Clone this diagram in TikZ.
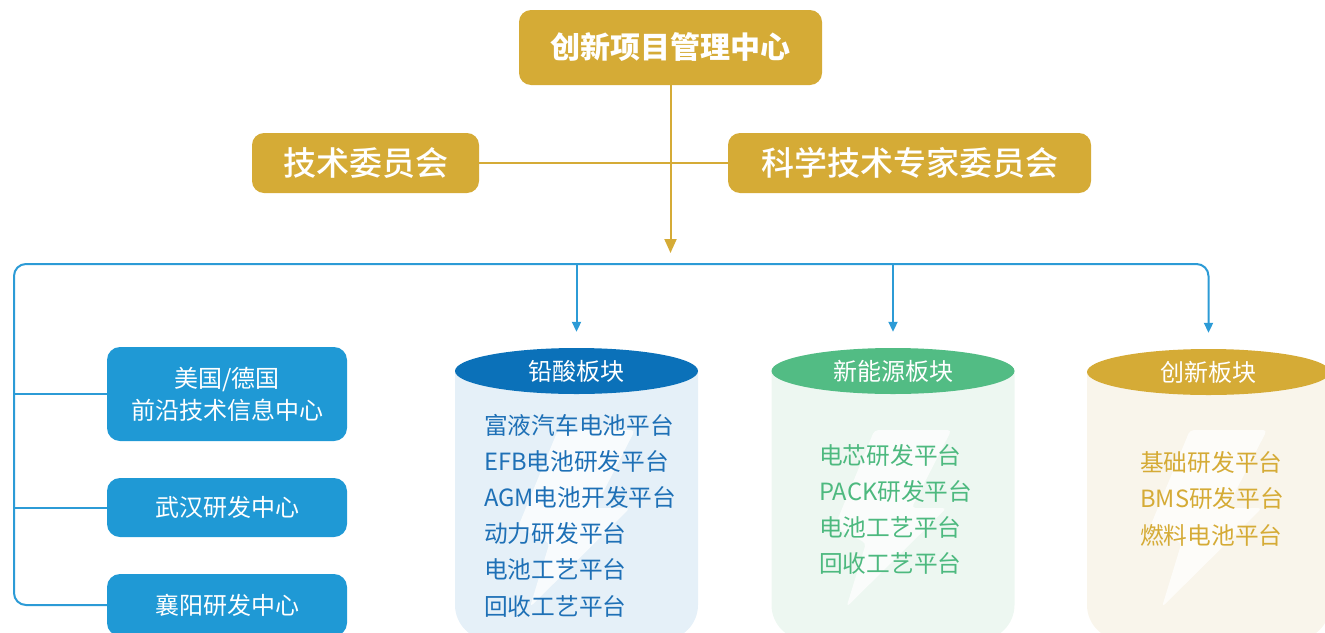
\documentclass[tikz,border=0pt]{standalone}
\usepackage{fontspec}
\setmainfont{Noto Sans CJK SC}
\newfontfamily\cjkmed{Noto Sans CJK SC Medium}
\usepackage{tikz}
\usetikzlibrary{arrows.meta, positioning, shapes.geometric}
\definecolor{gold}{HTML}{D5AB36}
\definecolor{boxblue}{HTML}{1F99D5}
\definecolor{busblue}{HTML}{2C9BD6}
\definecolor{leadblue}{HTML}{0B71B9}
\definecolor{leadtext}{HTML}{1E70B6}
\definecolor{nevgreen}{HTML}{52BC84}
\definecolor{nevtext}{HTML}{4DB97F}
\definecolor{lfblue}{HTML}{E5F0F8}
\definecolor{lfgreen}{HTML}{EDF7F1}
\definecolor{lfgold}{HTML}{F9F5EB}

\begin{document}
\begin{tikzpicture}[x=1pt, y=-1pt,
  goldbox/.style={fill=gold, text=white, rounded corners=12pt, inner sep=0pt},
  bluebox/.style={fill=boxblue, text=white, rounded corners=13pt, minimum width=240pt, inner sep=0pt, align=center, font=\fontsize{24}{32}\selectfont},
  head/.style={ellipse, minimum width=243pt, minimum height=46pt, inner sep=0pt, text=white, font=\fontsize{24}{28}\selectfont, text height=21.1pt, text depth=2.9pt},
  item/.style={anchor=west, inner sep=0pt, font=\fontsize{23.7}{28}\selectfont, text height=20.8pt, text depth=2.8pt},
  goldline/.style={draw=gold, line width=2pt},
  busline/.style={draw=busblue, line width=2pt},
  bustip/.style={-{Triangle[length=10pt,width=9pt]}}]
\useasboundingbox (0,0) rectangle (1325,632);

\node[goldbox, minimum width=303pt, minimum height=75pt, font=\fontsize{30}{36}\selectfont\bfseries, text height=26.4pt, text depth=3.6pt] (pmc) at (670.5,47.5) {创新项目管理中心};
\node[goldbox, minimum width=227pt, minimum height=60pt, font=\cjkmed\fontsize{33}{38}\selectfont, text height=29pt, text depth=4pt] (tec) at (365.5,163) {技术委员会};
\node[goldbox, minimum width=363pt, minimum height=60pt, font=\cjkmed\fontsize{33}{38}\selectfont, text height=29pt, text depth=4pt] (sci) at (909.5,163) {科学技术专家委员会};

\node[bluebox, minimum height=94pt] (us) at (227,394) {美国/德国\\前沿技术信息中心};
\node[bluebox, minimum height=59pt, text height=21.1pt, text depth=2.9pt] (wh) at (227,507.5) {武汉研发中心};
\node[bluebox, minimum height=62pt, text height=21.1pt, text depth=2.9pt] (xy) at (227,605) {襄阳研发中心};

% cylinders
\foreach \cx/\cy/\lf/\hd/\nm/\txt in {576.5/371/lfblue/leadblue/pb/铅酸板块, 893/371/lfgreen/nevgreen/ne/新能源板块, 1208.5/372/lfgold/gold/cx/创新板块} {
  \fill[\lf] (\cx-121.5,\cy) -- (\cx-121.5,605) arc[start angle=180, end angle=90, radius=35] -- (\cx+86.5,640) arc[start angle=90, end angle=0, radius=35] -- (\cx+121.5,\cy) -- cycle;
  \fill[white, opacity=.75, rounded corners=4pt] (\cx-18.5,430) -- (\cx+58.5,430) -- (\cx+18.5,508) -- (\cx+53.5,508) -- (\cx-46.5,607) -- (\cx-27,543) -- (\cx-58.5,527) -- cycle;
  \node[head, fill=\hd] (\nm) at (\cx,\cy) {\txt};
}

\foreach \t [count=\i] in {富液汽车电池平台, EFB电池研发平台, AGM电池开发平台, 动力研发平台, 电池工艺平台, 回收工艺平台}
  \node[item, text=leadtext] (pb\i) at (484, 425+36.2*\i-36.2) {\t};
\foreach \t [count=\i] in {电芯研发平台, PACK研发平台, 电池工艺平台, 回收工艺平台}
  \node[item, text=nevtext] (ne\i) at (819, 455+36.3*\i-36.3) {\t};
\foreach \t [count=\i] in {基础研发平台, BMS研发平台, 燃料电池平台}
  \node[item, text=gold] (cx\i) at (1140, 462+36.5*\i-36.5) {\t};

% connectors
\coordinate (busL) at (14,264);
\coordinate (busin) at (671,253);
\draw[goldline] (tec) -- (sci);
\draw[goldline, -{Triangle[length=14pt,width=12pt]}] (pmc.south) -- (pmc.south |- busin);
\draw[busline, bustip, rounded corners=12pt] (xy.west) -| (busL) -| ([yshift=16pt]cx.north);
\draw[busline] (us.west) -- (us.west -| busL);
\draw[busline] (wh.west) -- (wh.west -| busL);
\foreach \nm in {pb,ne}
  \draw[busline, bustip] (\nm.north |- busL) -- ([yshift=16pt]\nm.north);
\end{tikzpicture}
\end{document}
